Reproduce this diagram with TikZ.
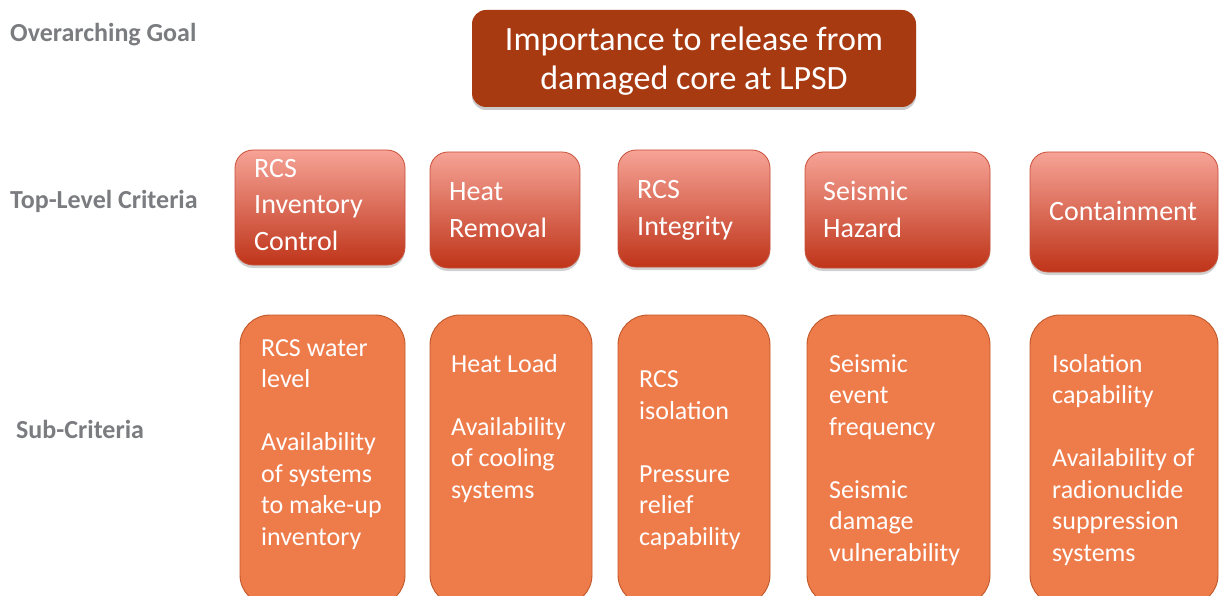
\documentclass[tikz,border=0pt]{standalone}
\usepackage{fontspec}
\setmainfont{Carlito}
\usetikzlibrary{shadows}
\definecolor{goalfill}{HTML}{A83A12}
\definecolor{toptop}{HTML}{F6A396}
\definecolor{topbot}{HTML}{BF3419}
\definecolor{topline}{HTML}{C8503A}
\definecolor{subfill}{HTML}{EE7B4A}
\definecolor{subline}{HTML}{C0582A}
\definecolor{rowlabel}{HTML}{7A7C80}
\tikzset{
  rowtitle/.style={anchor=base west, inner sep=0pt, text=rowlabel,
    font=\fontsize{26}{30}\selectfont\bfseries},
  goalbox/.style={rounded corners=14pt, fill=goalfill, inner sep=0pt, outer sep=0pt,
    anchor=north west, drop shadow={shadow xshift=0pt, shadow yshift=-3pt, opacity=0.35, fill=black!60}},
  critbox/.style={rounded corners=18pt, top color=toptop, bottom color=topbot, draw=topline,
    line width=0.8pt, inner sep=0pt, outer sep=0pt, anchor=north west,
    drop shadow={shadow xshift=0pt, shadow yshift=-3pt, opacity=0.3, fill=black!60}},
  subbox/.style={rounded corners=30pt, fill=subfill, draw=subline, line width=0.9pt,
    inner sep=0pt, outer sep=0pt, anchor=north west},
  % for these multi-line texts the base anchor sits on the last line
  goaltext/.style={anchor=base, inner sep=0pt, text=white, align=center,
    font=\fontsize{34}{39}\selectfont},
  crittext/.style={anchor=base west, inner sep=0pt, text=white, align=left,
    font=\fontsize{28}{36.5}\selectfont},
  subtext/.style={anchor=base west, inner sep=0pt, text=white, align=left,
    font=\fontsize{26}{31.5}\selectfont},
}
\begin{document}
\begin{tikzpicture}[x=1pt,y=-1pt]
\useasboundingbox (0,0) rectangle (1220,596);
\clip (0,0) rectangle (1220,596);

% row titles
\node[rowtitle] (lgoal) at (10,42) {Overarching Goal};
\node[rowtitle] (ltop) at (10,208) {Top-Level Criteria};
\node[rowtitle] (lsub) at (16,438) {Sub-Criteria};

% overarching goal
\node[goalbox, minimum width=444pt, minimum height=97pt] (goal) at (472,10) {};
\node[goaltext] (goaltxt) at (694,90) {Importance to release from\\damaged core at LPSD};

% top-level criteria
\node[critbox, minimum width=170pt, minimum height=115pt] (c1) at (235,150) {};
\node[critbox, minimum width=150pt, minimum height=116pt] (c2) at (430,152) {};
\node[critbox, minimum width=152pt, minimum height=117pt] (c3) at (618,150) {};
\node[critbox, minimum width=185pt, minimum height=116pt] (c4) at (805,152) {};
\node[critbox, minimum width=188pt, minimum height=120pt] (c5) at (1030,152) {};

\node[crittext] (c1t) at (254,250) {RCS\\Inventory\\Control};
\node[crittext] (c2t) at (449,237) {Heat\\Removal};
\node[crittext] (c3t) at (637,235) {RCS\\Integrity};
\node[crittext] (c4t) at (823,237) {Seismic\\Hazard};
\node[crittext] (c5t) at (1049,220) {Containment};

% sub-criteria
\node[subbox, minimum width=165pt, minimum height=290pt] (s1) at (240,315) {};
\node[subbox, minimum width=162pt, minimum height=290pt] (s2) at (430,315) {};
\node[subbox, minimum width=152pt, minimum height=290pt] (s3) at (618,315) {};
\node[subbox, minimum width=183pt, minimum height=290pt] (s4) at (807,315) {};
\node[subbox, minimum width=188pt, minimum height=290pt] (s5) at (1030,315) {};

\node[subtext] (s1t) at (261,545) {RCS water\\level\\[31.5pt]Availability\\of systems\\to make-up\\inventory};
\node[subtext] (s2t) at (451,498) {Heat Load\\[31.5pt]Availability\\of cooling\\systems};
\node[subtext] (s3t) at (639,545) {RCS\\isolation\\[31.5pt]Pressure\\relief\\capability};
\node[subtext] (s4t) at (829,561) {Seismic\\event\\frequency\\[31.5pt]Seismic\\damage\\vulnerability};
\node[subtext] (s5t) at (1052,561) {Isolation\\capability\\[31.5pt]Availability of\\radionuclide\\suppression\\systems};
\end{tikzpicture}
\end{document}
